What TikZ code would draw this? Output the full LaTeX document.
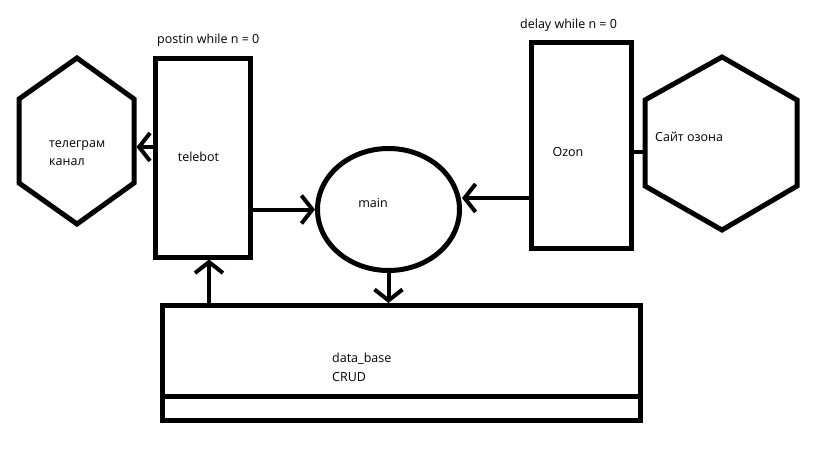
\documentclass[tikz,border=0pt]{standalone}
\usepackage{fontspec}
\setmainfont{Open Sans}
\usetikzlibrary{arrows.meta,shapes.geometric}
\begin{document}
\begin{tikzpicture}[x=1pt,y=-1pt,
  box/.style={draw,line width=5pt,rectangle,inner sep=0pt},
  oval/.style={draw,line width=5pt,ellipse,inner sep=0pt},
  hexa/.style={draw,line width=5pt,line join=miter},
  txt/.style={font=\fontsize{12.5}{18.5}\selectfont,inner sep=0pt,align=left},
  arr/.style={line width=4pt,-{Straight Barb[length=11pt,width=28pt]}},
  link/.style={line width=4pt}]
\fill[white] (0,0) rectangle (819,460);
\useasboundingbox (0,0) rectangle (819,460);

% boxes
\node[box,minimum width=95pt,minimum height=198pt,
  label={[txt,xshift=-4pt,yshift=1pt]center:telebot}] (telebot) at (202.5,158) {};
\node[box,minimum width=100pt,minimum height=206pt,
  label={[txt,xshift=-13.5pt,yshift=-6.5pt]center:Ozon}] (ozon) at (581.5,145.5) {};
\node[oval,minimum width=142pt,minimum height=122pt,
  label={[txt,xshift=-15.5pt,yshift=6.5pt]center:main}] (main) at (388.5,209.5) {};
\node[box,minimum width=478pt,minimum height=115pt] (db) at (401.5,363) {};
\draw[line width=5pt] ([yshift=26.5pt]db.south west) -- ([yshift=26.5pt]db.south east);
\node[txt,anchor=west] (dbtext) at (332,367.5) {data\_base\\CRUD};

% telegram hexagon
\coordinate (t1) at (77,58);
\coordinate (t2) at (134,99);
\coordinate (t3) at (134,183);
\coordinate (t4) at (77,224);
\coordinate (t5) at (19,183);
\coordinate (t6) at (19,99);
\draw[hexa] (t1) -- (t2) -- (t3) -- (t4) -- (t5) -- (t6) -- cycle;
\node[txt,anchor=west] (tgtext) at (49,153) {телеграм\\канал};
\coordinate (tgR) at (136.5,147);

% ozon site hexagon
\coordinate (s1) at (722,57);
\coordinate (s2) at (797,100);
\coordinate (s3) at (797,186);
\coordinate (s4) at (722,230);
\coordinate (s5) at (645,186);
\coordinate (s6) at (645,100);
\draw[hexa] (s1) -- (s2) -- (s3) -- (s4) -- (s5) -- (s6) -- cycle;
\node[txt,anchor=west] (oztext) at (655,137) {Сайт озона};
\coordinate (szL) at (645,152);

% top labels
\node[txt,anchor=west] (postin) at (157,40) {postin while n = 0};
\node[txt,anchor=west] (delay) at (520,25) {delay while n = 0};

% connectors
\draw[arr] (telebot.west |- tgR) -- (tgR);
\draw[arr] (telebot.east |- main.west) -- (main.west);
\coordinate (ozy) at ([yshift=-52.5pt]ozon.west);
\draw[arr] (ozy) -- (main.east |- ozy);
\coordinate (tbin) at ([xshift=6.5pt]telebot.south);
\draw[arr] (db.north -| tbin) -- (tbin);
\draw[arr] (main.south) -- (main.south |- db.north);
\draw[link] (ozon.east |- szL) -- (szL);
\end{tikzpicture}
\end{document}
